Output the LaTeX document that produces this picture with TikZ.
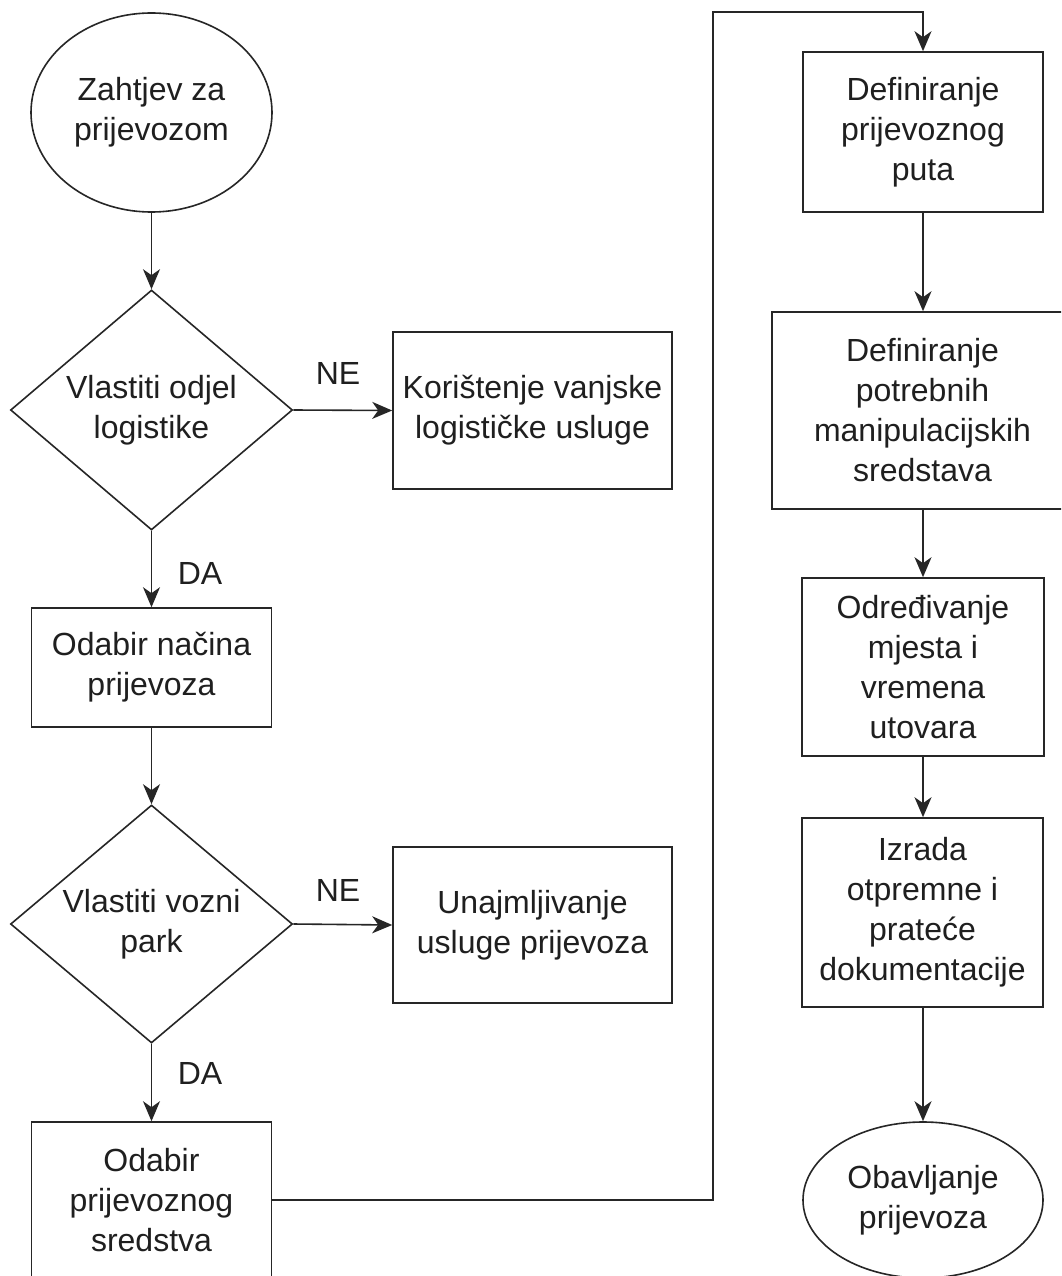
\documentclass[tikz,border=0pt]{standalone}
\usepackage{fontspec}
\setmainfont{Liberation Sans}
\usetikzlibrary{shapes.geometric,arrows.meta}
\begin{document}
\begin{tikzpicture}[x=1pt,y=-1pt,
  txt/.style={font=\fontsize{32}{40}\selectfont, align=center, text=black!88, inner sep=0pt},
  shapeline/.style={draw=black!85, line width=1.6pt, inner sep=0pt},
  proc/.style={shapeline, rectangle, txt},
  term/.style={shapeline, ellipse},
  decision/.style={shapeline, diamond},
  conn/.style={draw=black!85, line width=1.6pt, -{Stealth[length=20pt,width=17pt,inset=6pt]}},
  lbl/.style={txt}
]
\clip (0,0) rectangle (1061,1276);
\fill[white] (0,0) rectangle (1061,1276);

% left column
\node[term, minimum width=241pt, minimum height=199pt] (start) at (151.5,112.5) {};
\node[txt] (startt) at (start) {Zahtjev za\\prijevozom};

\node[decision, minimum width=282pt, minimum height=240pt] (d1) at (151.5,410) {};
\node[txt] (d1t) at (d1) {Vlastiti odjel\\logistike};

\node[proc, minimum width=279pt, minimum height=157pt] (ext) at (532.5,410.5) {Korištenje vanjske\\logističke usluge};

\node[proc, minimum width=240pt, minimum height=119pt] (nacin) at (151.5,667.5) {Odabir načina\\prijevoza};

\node[decision, minimum width=282pt, minimum height=238pt] (d2) at (151.5,924) {};
\node[txt] (d2t) at (d2) {Vlastiti vozni\\park};

\node[proc, minimum width=279pt, minimum height=156pt] (najam) at (532.5,925) {Unajmljivanje\\usluge prijevoza};

\node[proc, minimum width=240pt, minimum height=156pt] (sred) at (151.5,1200) {Odabir\\prijevoznog\\sredstva};

% right column
\node[proc, minimum width=240pt, minimum height=160pt] (put) at (923,132) {Definiranje\\prijevoznog\\puta};
\node[proc, minimum width=301pt, minimum height=197pt] (manip) at (922.5,410.5) {Definiranje\\potrebnih\\manipulacijskih\\sredstava};
\node[proc, minimum width=242pt, minimum height=178pt] (mjesto) at (923,667) {Određivanje\\mjesta i\\vremena\\utovara};
\node[proc, minimum width=241pt, minimum height=189pt] (doku) at (922.5,912.5) {Izrada\\otpremne i\\prateće\\dokumentacije};
\node[term, minimum width=240pt, minimum height=156pt] (kraj) at (923,1200) {};
\node[txt] (krajt) at (kraj) {Obavljanje\\prijevoza};

% labels
\node[lbl] (ne1) at (338,373) {NE};
\node[lbl] (da1) at (200,573) {DA};
\node[lbl] (ne2) at (338,890) {NE};
\node[lbl] (da2) at (200,1073) {DA};

% connectors
\coordinate (top) at (713,12);
\draw[conn] (start.south) -- (d1.north);
\draw[conn] (d1.east) -- (ext.west);
\draw[conn] (d1.south) -- (nacin.north);
\draw[conn] (nacin.south) -- (d2.north);
\draw[conn] (d2.east) -- (najam.west);
\draw[conn] (d2.south) -- (sred.north);
\draw[conn] (sred.east) -| (top) -| (put.north);
\draw[conn] (put.south) -- (manip.north -| put.south);
\draw[conn] (manip.south -| mjesto.north) -- (mjesto.north);
\draw[conn] (mjesto.south) -- (doku.north -| mjesto.south);
\draw[conn] (doku.south -| kraj.north) -- (kraj.north);
\end{tikzpicture}
\end{document}
